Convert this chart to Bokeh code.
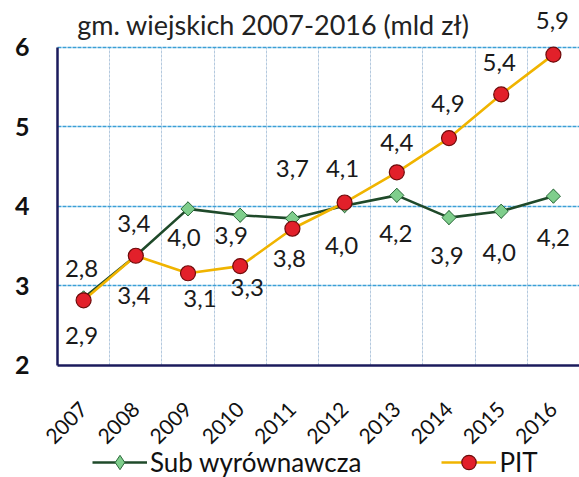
import math
from bokeh.plotting import figure
from bokeh.models import (ColumnDataSource, LabelSet, Label, Legend, LegendItem,
                          FixedTicker, Range1d)
from bokeh.core.properties import value
from bokeh.embed import file_html
from bokeh.resources import INLINE

# ---- data ----
years = [2007, 2008, 2009, 2010, 2011, 2012, 2013, 2014, 2015, 2016]
year_labels = ["2007", "2008", "2009", "2010", "2011", "2012", "2013", "2014", "2015", "2016"]
sub_values = [2.85, 3.38, 3.97, 3.89, 3.85, 4.01, 4.14, 3.86, 3.94, 4.13]
pit_values = [2.82, 3.38, 3.16, 3.25, 3.72, 4.05, 4.43, 4.86, 5.41, 5.91]
sub_labels = ["2,9", "3,4", "4,0", "3,9", "3,8", "4,0", "4,2", "3,9", "4,0", "4,2"]
pit_labels = ["2,8", "3,4", "3,1", "3,3", "3,7", "4,1", "4,4", "4,9", "5,4", "5,9"]
y_ticks = [2, 3, 4, 5, 6]
y_min, y_max = 2, 6
x_min, x_max = 2006.5, 2016.5
title_text = "gm. wiejskich 2007-2016  (mld zł)"

# ---- label placement (screen px, positive y = up) ----
sub_dx = [-2, -2, -4, -9, -3, -3, -1, -2, -2, 0]
sub_dy = [-38, -40, -29, -20, -40, -40, -38, -38, -41, -41]
pit_dx = [-2, -2, 12, 7, 0, -2, 0, -1, -2, -1]
pit_dy = [32, 32, -25, -21, 60, 34, 30, 35, 32, 34]

FONT = "Lato"

# the plotting frame covers the whole canvas so that title, top label,
# rotated tick labels and legend are not clipped; axes sit at fixed locations
p = figure(width=579, height=477,
           x_range=Range1d(2005.408, x_max), y_range=Range1d(0.591, 6.591),
           output_backend="svg", toolbar_location=None, title=None,
           min_border_left=0, min_border_right=0, min_border_top=0,
           min_border_bottom=0)
p.outline_line_color = None
p.background_fill_color = "white"
p.border_fill_color = "white"

# axes
p.xaxis.fixed_location = y_min
p.xaxis.bounds = (x_min, x_max)
p.xaxis.ticker = FixedTicker(ticks=years)
p.xaxis.major_label_overrides = {y: l for y, l in zip(years, year_labels)}
p.xaxis.major_label_orientation = math.pi / 4
p.xaxis.major_label_standoff = 34
p.xaxis.major_label_text_font = FONT
p.xaxis.major_label_text_font_size = "21px"
p.xaxis.major_label_text_color = "#111111"

p.yaxis.fixed_location = x_min
p.yaxis.ticker = FixedTicker(ticks=y_ticks)
p.yaxis.bounds = (y_min, y_max)
p.yaxis.major_label_standoff = 22
p.yaxis.major_label_text_font = FONT
p.yaxis.major_label_text_font_size = "25px"
p.yaxis.major_label_text_font_style = "bold"
p.yaxis.major_label_text_color = "#111111"

for ax in (p.xaxis, p.yaxis):
    ax.major_tick_line_color = None
    ax.minor_tick_line_color = None
    ax.axis_line_color = "#1b1b5c"
    ax.axis_line_width = 2.5

# grids
p.xgrid.ticker = FixedTicker(ticks=[y + 0.5 for y in years[:-1]])
p.xgrid.cross_bounds = (y_min, y_max)
p.xgrid.grid_line_color = "#b4c9de"
p.xgrid.grid_line_width = 1
p.xgrid.grid_line_dash = "3 1"
p.ygrid.ticker = FixedTicker(ticks=[3, 4, 5, 6])
p.ygrid.cross_bounds = (x_min, x_max)
p.ygrid.grid_line_color = "#3b9fd6"
p.ygrid.grid_line_width = 1.5
p.ygrid.grid_line_dash = "4 1"

# series
sub_line = p.line(years, sub_values, line_color="#1f4a2a", line_width=2.6)
# diamond used as the legend sample (hidden beneath the rotated squares)
sub_leg = p.scatter(years, sub_values, marker="diamond", size=14,
                    fill_color="#7fce8c", line_color="#2d6a3c", line_width=1)
sub_pts = p.scatter(years, sub_values, marker="square", angle=math.pi / 4, size=10,
                    fill_color="#7fce8c", line_color="#2d6a3c", line_width=1)
pit_line = p.line(years, pit_values, line_color="#f0b400", line_width=2.6)
pit_pts = p.scatter(years, pit_values, marker="circle", size=15,
                    fill_color="#e2202a", line_color="#6e0b0b", line_width=1.2)

# data labels
sub_src = ColumnDataSource(dict(x=years, y=sub_values, t=sub_labels, dx=sub_dx, dy=sub_dy))
pit_src = ColumnDataSource(dict(x=years, y=pit_values, t=pit_labels, dx=pit_dx, dy=pit_dy))
for src in (sub_src, pit_src):
    ls = LabelSet(x="x", y="y", text="t", x_offset="dx", y_offset="dy", source=src,
                  text_align="center", text_baseline="middle",
                  text_font=value(FONT), text_font_size=value("24px"),
                  text_color="#1a1a1a")
    p.add_layout(ls)

# title
p.add_layout(Label(x=2010.7, y=6.29, text=title_text, text_align="center",
                   text_baseline="middle", text_font=FONT, text_font_size="27px",
                   text_color="#222222"))

# legend
legend = Legend(items=[LegendItem(label="Sub wyrównawcza", renderers=[sub_line, sub_leg]),
                       LegendItem(label="PIT", renderers=[pit_line, pit_pts])],
                orientation="horizontal", location=(92, -3),
                glyph_width=55, glyph_height=36, label_standoff=3, spacing=80,
                label_text_font=FONT, label_text_font_size="26px",
                label_text_color="#111111", border_line_color=None,
                background_fill_alpha=0, padding=0, margin=0)
p.add_layout(legend)

open("out.html", "w").write(file_html(p, INLINE))
